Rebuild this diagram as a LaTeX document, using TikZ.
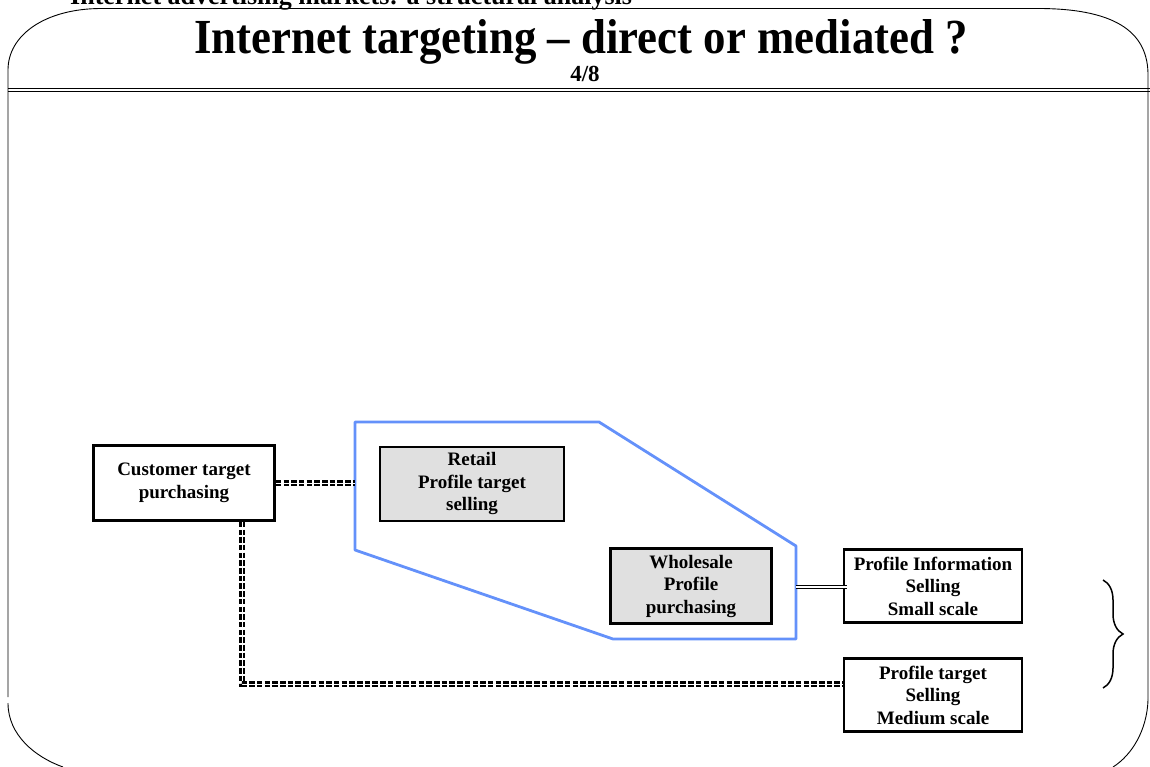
\documentclass[tikz,border=0pt]{standalone}
\usepackage{fontspec}
\setmainfont{Liberation Serif}
\usetikzlibrary{positioning, decorations.pathreplacing}
\definecolor{hullblue}{RGB}{100,145,250}
\tikzset{
  box/.style={draw, line width=2.6pt, align=center, inner sep=0pt,
    font=\bfseries\fontsize{19}{22.5}\selectfont},
  shaded/.style={box, fill=black!12},
  dashlink/.style={line width=2.3pt, double distance=0.9pt, dash pattern=on 5.5pt off 2.2pt},
  dbllink/.style={line width=0.8pt, double distance=1.6pt}
}

\begin{document}
\begin{tikzpicture}[x=1pt, y=-1pt]
			\useasboundingbox (0,0) rectangle (1150,767);
			% Slide frame
			\draw[line width=0.9pt] (8,697) -- (8,70) .. controls (8,35) and (45,9) .. (100,8.5) -- (1040,8.5)
			      .. controls (1120,9) and (1148,35) .. (1148,75) -- (1148,700);
			\draw[line width=0.9pt] (8,703) .. controls (8,735) and (35,757) .. (63,767);
			\draw[line width=0.9pt] (1148,700) .. controls (1147,730) and (1132,755) .. (1113,767);
			\draw[line width=0.8pt] (8,88.3) -- (1150,88.3);
			\draw[line width=1.6pt] (8,91.7) -- (1150,91.7);
			% Header texts
			\node[anchor=base west, inner sep=0pt, font=\bfseries\fontsize{26}{30}\selectfont] (running) at (70,4.5)
			      {Internet advertising markets: a structural analysis};
			\node[anchor=base, inner sep=0pt, font=\bfseries\fontsize{49}{54}\selectfont] (title) at (581,54)
			      {\scalebox{0.915}[1]{Internet targeting -- direct or mediated ?}};
			\node[anchor=base, inner sep=0pt, font=\bfseries\fontsize{23}{26}\selectfont] (page) at (585,82) {4/8};
			% Mediated part
			\draw[hullblue, line width=2.8pt, line join=round] (355,422) -- (599,422) -- (796,546) -- (796,639)
			      -- (613,639) -- (355,550) -- cycle;
			\coordinate (hullL) at (355,483);
			\coordinate (hullR) at (796,587);
			% Boxes
			\node[box, minimum width=181pt, minimum height=75pt] (customer) at (184,483) {Customer target\\purchasing};
			\node[shaded, minimum width=184pt, minimum height=74pt] (retail) at (472,484) {Retail\\Profile target\\selling};
			\node[shaded, minimum width=161pt, minimum height=75pt] (wholesale) at (691,586) {Wholesale\\Profile\\purchasing};
			\node[box, minimum width=178pt, minimum height=73pt] (info) at (933,586) {Profile Information\\Selling\\Small scale};
			\node[box, minimum width=178pt, minimum height=73pt] (medium) at (933,695) {Profile target\\Selling\\Medium scale};
			% Connectors
			\coordinate (bend) at (242,684);
			\draw[dashlink] (customer.east) -- (hullL);
			\draw[dashlink] (customer.south -| bend) -- (bend) -- (bend -| medium.west);
			\draw[dbllink] (hullR) -- ([xshift=4pt]hullR -| info.west);
			% Brace
			\draw[line width=1.5pt, decorate, decoration={brace, amplitude=20pt}] (1103,580) -- (1103,688);
		\end{tikzpicture}
\end{document}
